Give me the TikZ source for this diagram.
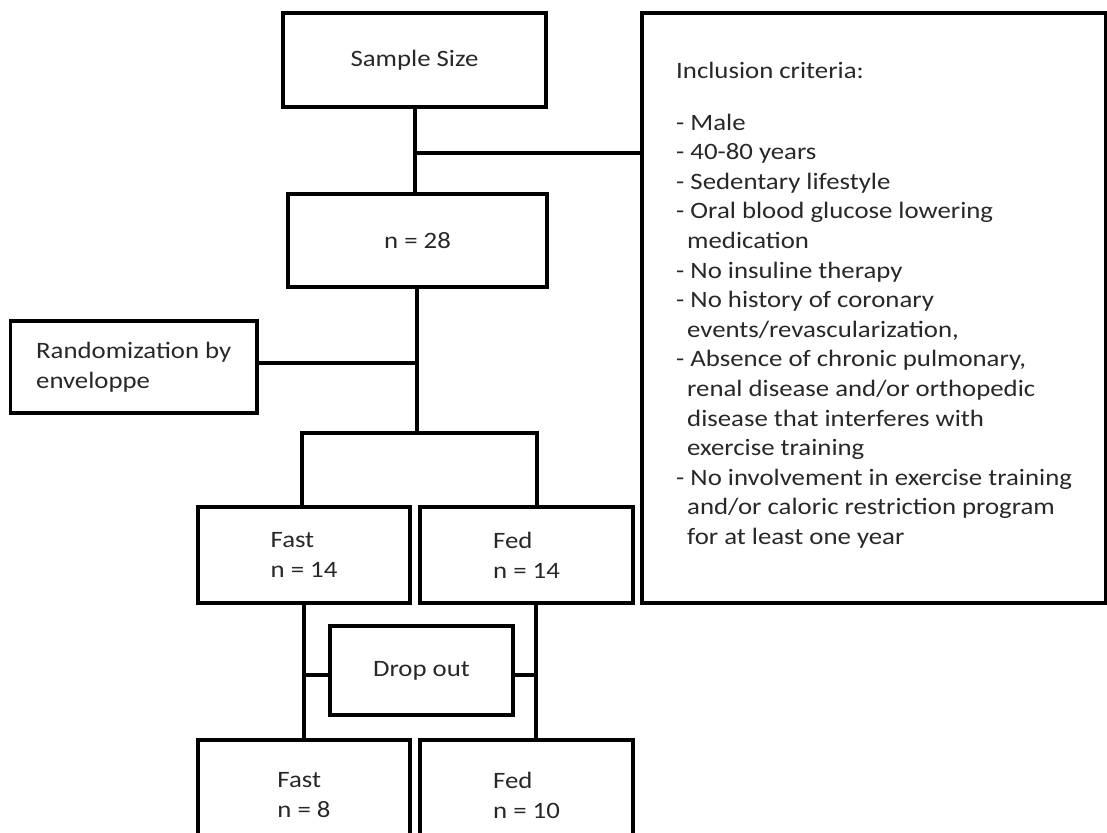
\documentclass[tikz,border=0pt]{standalone}
\usepackage{fontspec}
\setmainfont{Carlito}[FakeStretch=1.14]
\definecolor{txt}{RGB}{40,40,40}
\newcommand\boxfont{\fontsize{23.5}{30}\selectfont}
\newcommand\critfont{\fontsize{23.5}{29.6}\selectfont}
\begin{document}
\begin{tikzpicture}[x=1pt,y=-1pt,
  box/.style={draw=black, line width=3.2pt, inner sep=0pt, text=txt, font=\boxfont, align=left},
  conn/.style={draw=black, line width=3.2pt}]
\path[use as bounding box] (0,0) rectangle (1107,832);
\clip (0,0) rectangle (1107,832);
\fill[white] (0,0) rectangle (1107,832);
% boxes
\node[box, minimum width=263pt, minimum height=94pt] (ss) at (414.5,60) {Sample Size};
\node[box, minimum width=259pt, minimum height=93pt] (n28) at (417.5,240.5) {n = 28};
\node[box, minimum width=246.5pt, minimum height=92pt] (rand) at (133.75,367) {Randomization by\\enveloppe};
\node[box, minimum width=464pt, minimum height=590pt] (incl) at (874,308) {};
\node[anchor=north west, align=left, inner sep=0pt, text=txt, font=\critfont] (crit) at (676,62)
  {Inclusion criteria:\\[22pt]
   - Male\\
   - 40-80 years\\
   - Sedentary lifestyle\\
   - Oral blood glucose lowering\\
   \hspace*{11pt}medication\\
   - No insuline therapy\\
   - No history of coronary\\
   \hspace*{11pt}events/revascularization,\\
   - Absence of chronic pulmonary,\\
   \hspace*{11pt}renal disease and/or orthopedic\\
   \hspace*{11pt}disease that interferes with\\
   \hspace*{11pt}exercise training\\
   - No involvement in exercise training\\
   \hspace*{11pt}and/or caloric restriction program\\
   \hspace*{11pt}for at least one year};
\node[box, minimum width=212pt, minimum height=96pt] (fast1) at (304,555) {Fast\\n = 14};
\node[box, minimum width=213pt, minimum height=96pt] (fed1) at (526.5,555) {Fed\\n = 14};
\node[box, minimum width=183pt, minimum height=89pt] (drop) at (421.5,670.5) {Drop out};
\node[box, minimum width=212pt, minimum height=110pt] (fast2) at (304,795) {Fast\\n = 8};
\node[box, minimum width=213pt, minimum height=110pt] (fed2) at (526.5,795) {Fed\\n = 10};
% junction coordinates
\coordinate (j1) at (415,153);
\coordinate (j2) at (417,363);
\coordinate (j3) at (417,433);
\coordinate (jl) at (302,433);
\coordinate (jr) at (537,433);
\coordinate (dl) at (304,675);
\coordinate (dr) at (536,675);
% connectors
\draw[conn] (ss.south -| j1) -- (n28.north -| j1);
\draw[conn] (j1) -- (incl.west |- j1);
\draw[conn] (n28.south -| j3) -- (j3);
\draw[conn] (rand.east |- j2) -- (j2);
\draw[conn] (fast1.north -| jl) -- (jl) -- (jr) -- (fed1.north -| jr);
\draw[conn] (fast1.south -| dl) -- (fast2.north -| dl);
\draw[conn] (fed1.south -| dr) -- (fed2.north -| dr);
\draw[conn] (dl) -- (drop.west |- dl);
\draw[conn] (drop.east |- dr) -- (dr);
\end{tikzpicture}
\end{document}
